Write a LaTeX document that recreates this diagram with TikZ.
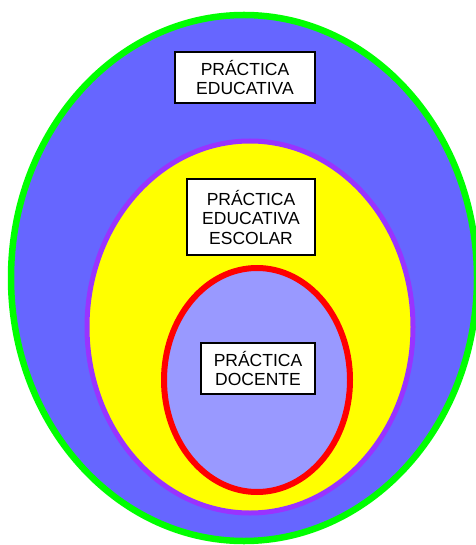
\documentclass[tikz,border=0pt]{standalone}
\usepackage{fontspec}
\setmainfont{Liberation Sans}
\definecolor{outerblue}{HTML}{6666FF}
\definecolor{greenline}{HTML}{00FF00}
\definecolor{yel}{HTML}{FFFF00}
\definecolor{purp}{HTML}{9933FF}
\definecolor{redline}{HTML}{FF0000}
\definecolor{lightblue}{HTML}{9999FF}
\tikzset{
  labelbox/.style={draw=black, fill=white, line width=1.5pt, align=center, inner sep=0pt,
    font=\fontsize{17.5}{19.5}\selectfont},
}
\begin{document}
\begin{tikzpicture}[x=1pt,y=-1pt]
\useasboundingbox (0,0) rectangle (475,545);
\fill[white] (0,0) rectangle (475,545);
\draw[greenline, fill=outerblue, line width=6.5pt] (244,278) ellipse [x radius=233pt, y radius=263pt];
\draw[purp, fill=yel, line width=5pt] (250,327) ellipse [x radius=163pt, y radius=186pt];
\draw[redline, fill=lightblue, line width=6pt] (257,380) ellipse [x radius=93pt, y radius=112pt];
\node[labelbox, minimum width=140pt, minimum height=51pt] (pe) at (245,77.5) {PRÁCTICA\\EDUCATIVA};
\node[labelbox, minimum width=128pt, minimum height=76pt] (pee) at (251,217) {PRÁCTICA\\EDUCATIVA\\ESCOLAR};
\node[labelbox, minimum width=114pt, minimum height=51pt] (pd) at (258,368.5) {PRÁCTICA\\DOCENTE};
\end{tikzpicture}
\end{document}
